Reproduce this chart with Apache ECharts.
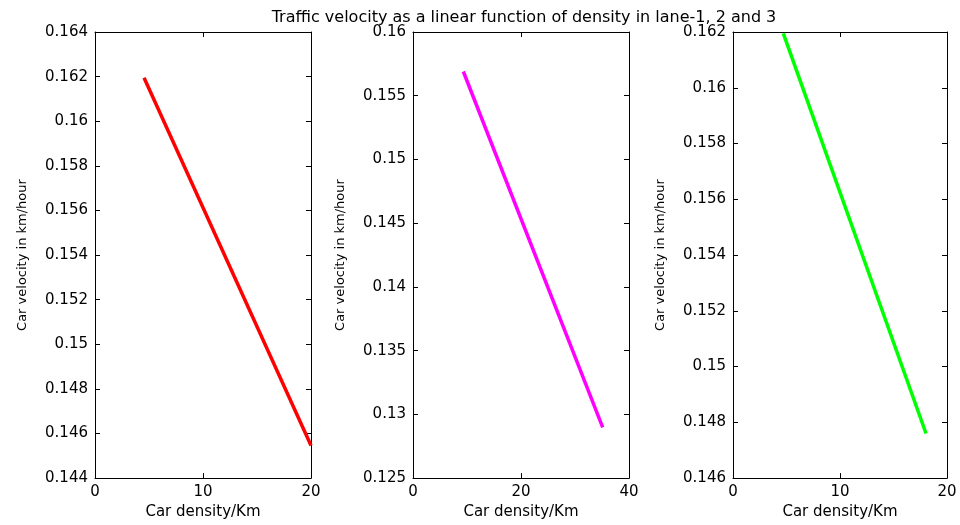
<!DOCTYPE html>
<html>
<head>
<meta charset="utf-8">
<script src="https://cdn.jsdelivr.net/npm/echarts@6/dist/echarts.min.js"></script>
<style>
  html, body { margin: 0; padding: 0; background: #fff; }
  #chart { width: 960px; height: 525px; }
</style>
</head>
<body>
<div id="chart"></div>
<script>
// lane 1 (red), lane 2 (magenta), lane 3 (green): start / end points
var lane1Density = [4.54, 20.0];
var lane1Velocity = [0.16195, 0.14546];
var lane2Density = [9.32, 35.13];
var lane2Velocity = [0.1569, 0.12898];
var lane3Density = [4.70, 18.04];
var lane3Velocity = [0.16195, 0.1476];

// axis ranges [min, max, interval]
var xRanges = [[0, 20, 10], [0, 40, 20], [0, 20, 10]];
var yRanges = [[0.144, 0.164, 0.002], [0.125, 0.16, 0.005], [0.146, 0.162, 0.002]];

var titleText = "Traffic velocity as a linear function of density in lane-1, 2 and 3";
var xName = "Car density/Km";
var yName = "Car velocity in km/hour";

var font = "DejaVu Sans, Liberation Sans, Arial, sans-serif";

function pairs(xs, ys) {
  var out = [];
  for (var i = 0; i < xs.length; i++) out.push([xs[i], ys[i]]);
  return out;
}

var grids = [
  { left: 95, top: 32, width: 216, height: 449 },
  { left: 413, top: 32, width: 216, height: 449 },
  { left: 733, top: 32, width: 214, height: 449 }
];

var xAxes = [];
var yAxes = [];
grids.forEach(function (g, i) {
  var xr = xRanges[i], yr = yRanges[i];
  // bottom axis with labels
  xAxes.push({
    gridIndex: i, type: "value", position: "bottom",
    min: xr[0], max: xr[1], interval: xr[2],
    name: xName, nameLocation: "middle", nameGap: 25,
    nameTextStyle: { color: "#000", fontSize: 15, fontFamily: font },
    axisLine: { show: true, onZero: false, lineStyle: { color: "#000", width: 1 } },
    axisTick: { show: true, inside: true, length: 5, lineStyle: { color: "#000" } },
    axisLabel: { color: "#000", fontSize: 15, fontFamily: font, margin: 7 },
    splitLine: { show: false }
  });
  // top box edge, ticks only
  xAxes.push({
    gridIndex: i, type: "value", position: "top",
    min: xr[0], max: xr[1], interval: xr[2],
    axisLine: { show: true, onZero: false, lineStyle: { color: "#000", width: 1 } },
    axisTick: { show: true, inside: true, length: 5, lineStyle: { color: "#000" } },
    axisLabel: { show: false },
    splitLine: { show: false }
  });
  yAxes.push({
    gridIndex: i, type: "value", position: "left",
    min: yr[0], max: yr[1], interval: yr[2],
    name: yName, nameLocation: "middle", nameGap: 66,
    nameTextStyle: { color: "#000", fontSize: 13, fontFamily: font },
    axisLine: { show: true, onZero: false, lineStyle: { color: "#000", width: 1 } },
    axisTick: { show: true, inside: true, length: 5, lineStyle: { color: "#000" } },
    axisLabel: { color: "#000", fontSize: 15, fontFamily: font, margin: 7 },
    splitLine: { show: false }
  });
  // right box edge, ticks only
  yAxes.push({
    gridIndex: i, type: "value", position: "right",
    min: yr[0], max: yr[1], interval: yr[2],
    axisLine: { show: true, onZero: false, lineStyle: { color: "#000", width: 1 } },
    axisTick: { show: true, inside: true, length: 5, lineStyle: { color: "#000" } },
    axisLabel: { show: false },
    splitLine: { show: false }
  });
});

var myChart = echarts.init(document.getElementById("chart"));
myChart.setOption({
  backgroundColor: "#fff",
  animation: false,
  title: {
    text: titleText,
    left: 519,
    top: 5,
    textAlign: "center",
    textStyle: { color: "#000", fontSize: 16, fontWeight: "normal", fontFamily: font }
  },
  grid: grids,
  xAxis: xAxes,
  yAxis: yAxes,
  series: [
    {
      type: "line", xAxisIndex: 0, yAxisIndex: 0,
      data: pairs(lane1Density, lane1Velocity),
      showSymbol: false, lineStyle: { color: "#ff0000", width: 3.5 }
    },
    {
      type: "line", xAxisIndex: 2, yAxisIndex: 2,
      data: pairs(lane2Density, lane2Velocity),
      showSymbol: false, lineStyle: { color: "#ff00ff", width: 3.5 }
    },
    {
      type: "line", xAxisIndex: 4, yAxisIndex: 4,
      data: pairs(lane3Density, lane3Velocity),
      showSymbol: false, lineStyle: { color: "#00ff00", width: 3.5 }
    }
  ]
});
window.addEventListener("resize", function () {
  myChart.resize();
});
</script>
</body>
</html>
